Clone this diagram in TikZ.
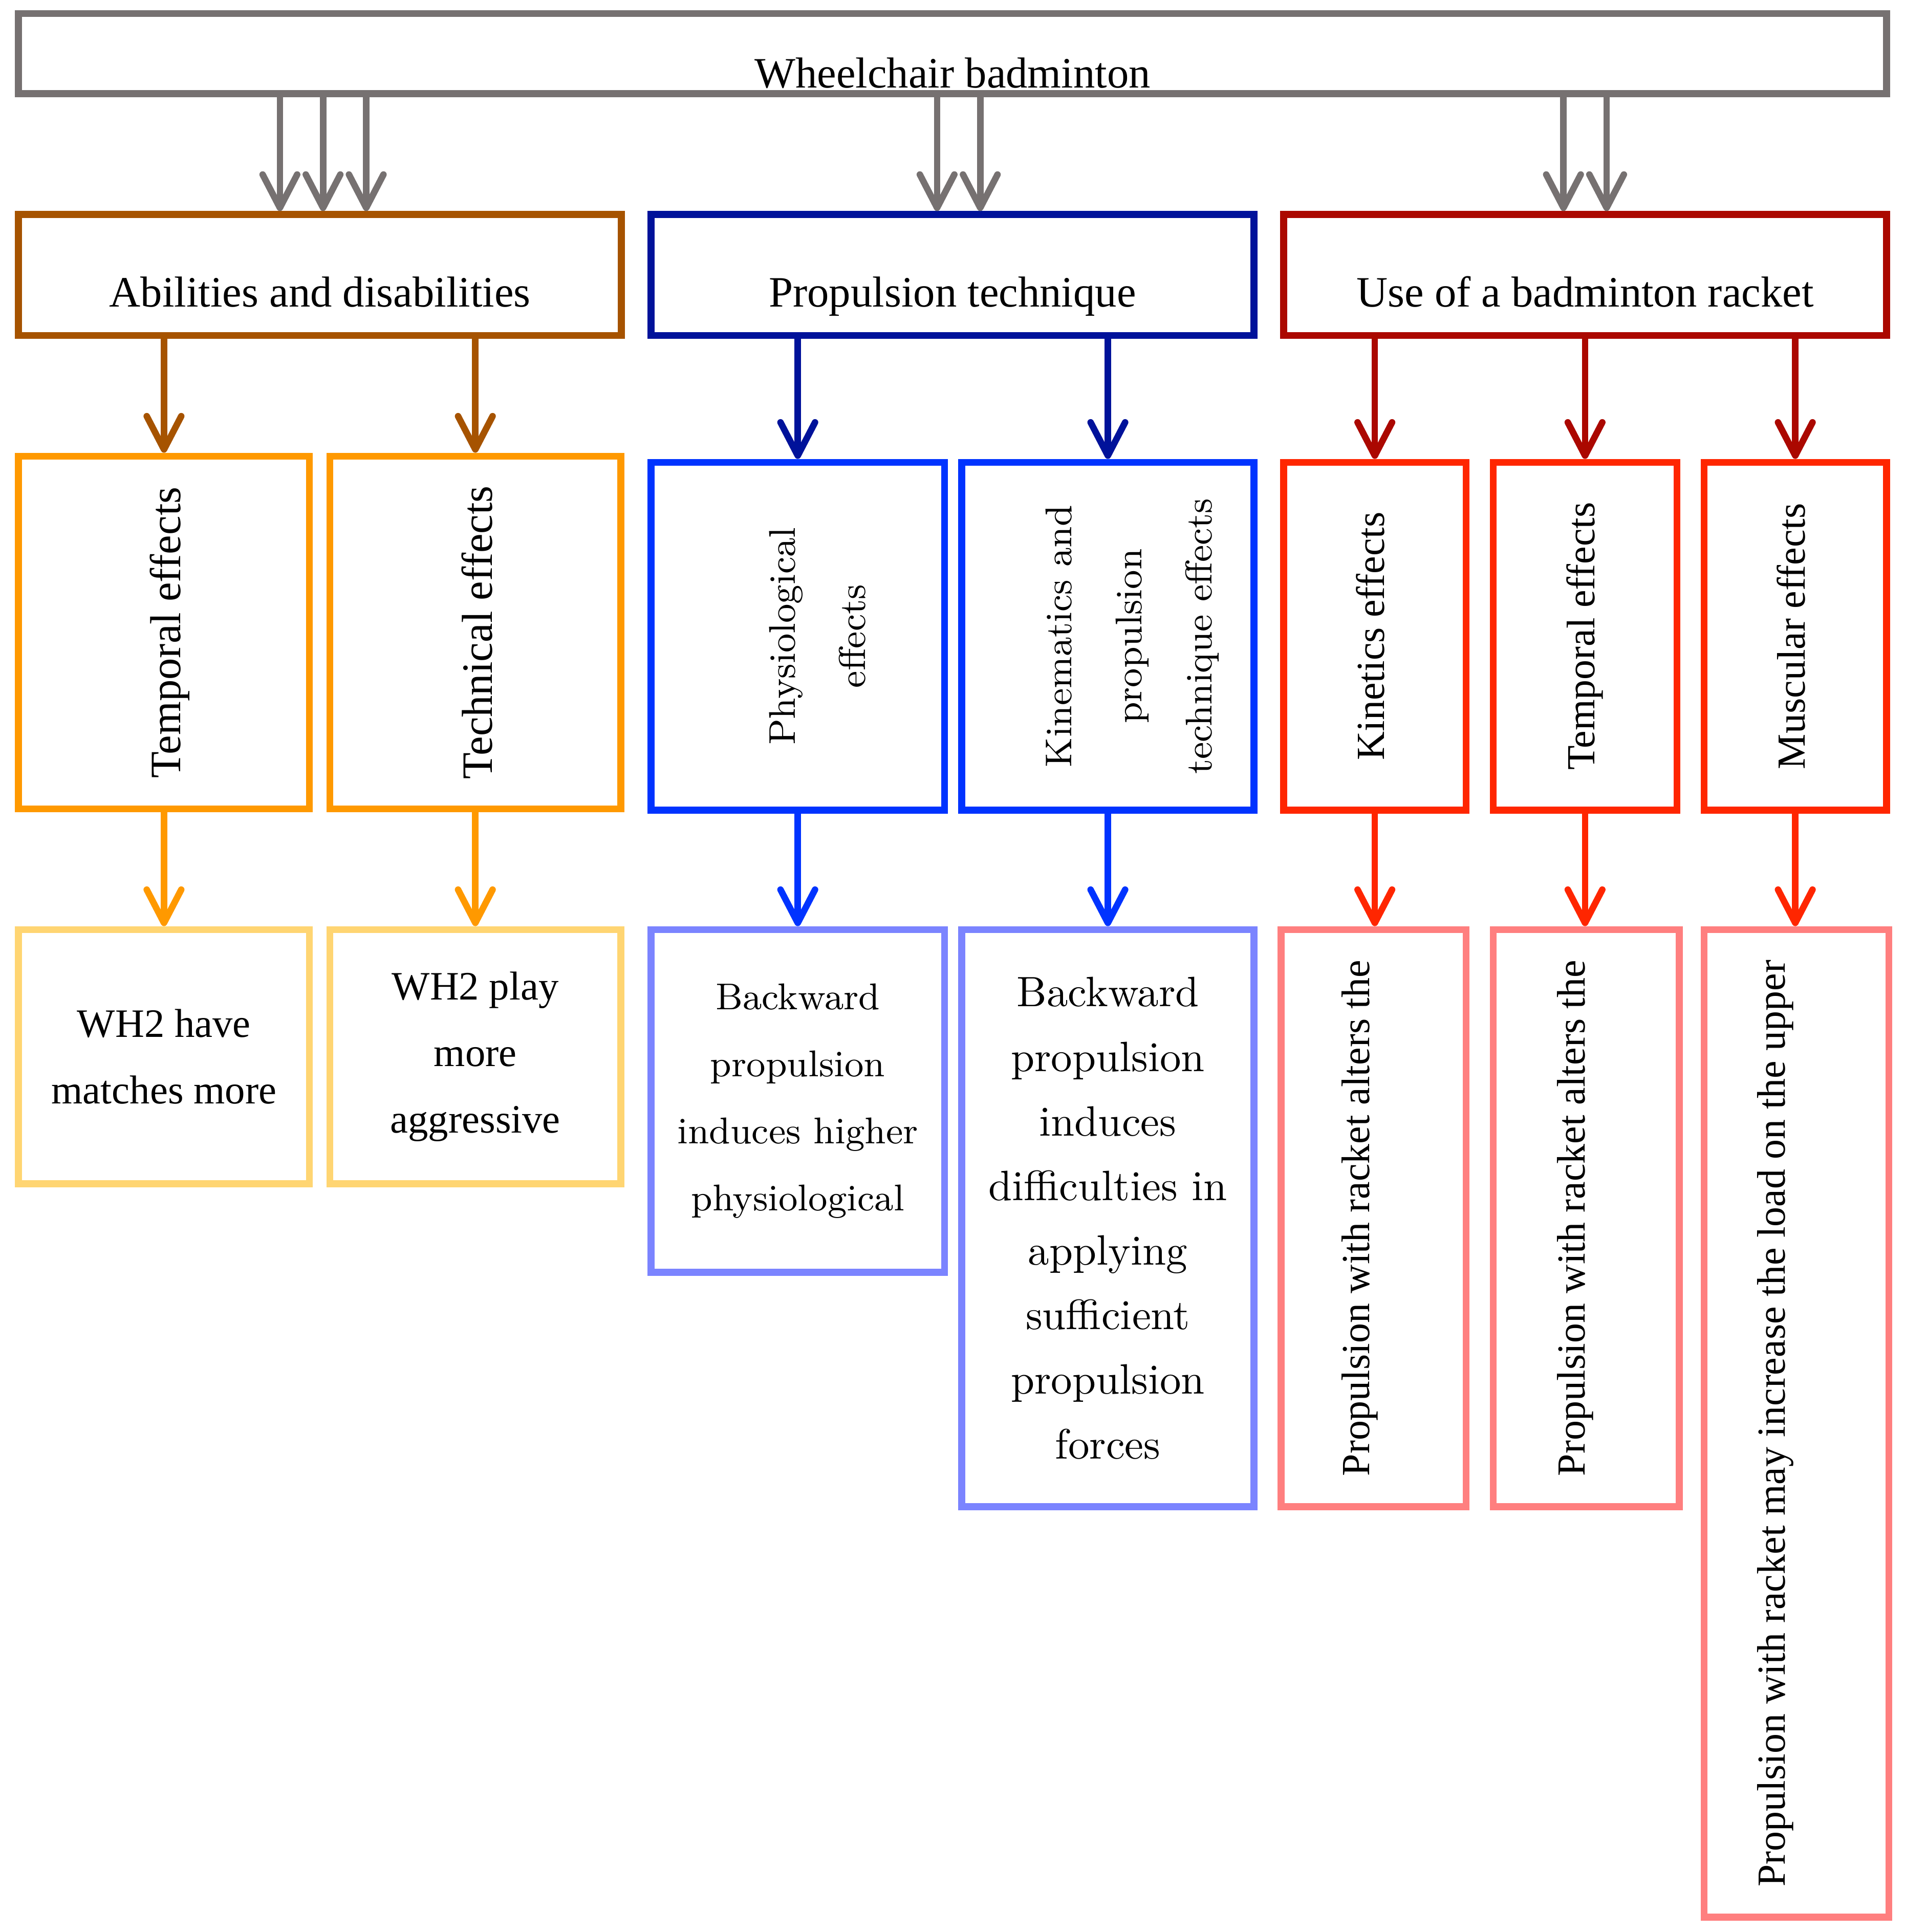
\documentclass[tikz,border=0pt]{standalone}
\usepackage{fontspec}
\usepackage{graphicx}
\newfontfamily\tnr{Liberation Serif}
\usetikzlibrary{arrows.meta}

\definecolor{wbgray}{HTML}{767171}
\definecolor{brownA}{HTML}{A65300}
\definecolor{orangeA}{HTML}{FF9900}
\definecolor{orangeB}{HTML}{FFD572}
\definecolor{blueA}{HTML}{00129A}
\definecolor{blueB}{HTML}{0033FF}
\definecolor{blueC}{HTML}{7B84FF}
\definecolor{redA}{HTML}{AB0800}
\definecolor{redB}{HTML}{FF2600}
\definecolor{redC}{HTML}{FF7F7F}

\newcommand{\vtext}[2][0pt]{\hspace*{#1}\rotatebox{90}{\begin{tabular}{@{}c@{}}#2\end{tabular}}}

\tikzset{
	box/.style={draw, line width=1.6pt, inner sep=0pt},
	headbox/.style={box, minimum width=4.89cm, minimum height=0.98cm, text height=0.7cm, text depth=0.18cm, font=\tnr\fontsize{10}{12}\selectfont},
	arr/.style={line width=1.5pt, line cap=round, -{Straight Barb[length=0.27cm,width=0.28cm,round]}}
}

\begin{document}
\begin{tikzpicture}
	\useasboundingbox (0,0) rectangle (15.45,-15.67);
	
	\node[box, draw=wbgray, minimum width=15.15cm, minimum height=0.65cm, text height=0.6cm, text depth=0.045cm, font=\tnr\fontsize{10}{12}\selectfont] (wb) at (7.725,-0.435) {Wheelchair badminton};
	
	\node[headbox, draw=brownA] (ad) at (2.595,-2.23) {Abilities and disabilities};
	\node[headbox, draw=blueA] (pt) at (7.725,-2.23) {Propulsion technique};
	\node[headbox, draw=redA] (ur) at (12.855,-2.23) {Use of a badminton racket};
	
	% effects
	\node[box, draw=orangeA, minimum width=2.36cm, minimum height=2.86cm, font=\tnr\fontsize{10}{12}\selectfont] (te) at (1.33,-5.13) {\vtext[0.1cm]{Temporal effects}};
	\node[box, draw=orangeA, minimum width=2.36cm, minimum height=2.86cm, font=\tnr\fontsize{10}{12}\selectfont] (tc) at (3.855,-5.13) {\vtext[0.1cm]{Technical effects}};
	\node[box, draw=blueB, minimum width=2.38cm, minimum height=2.82cm, font=\fontsize{8.6}{16.2}\selectfont] (pe) at (6.47,-5.16) {\vtext[0.3cm]{Physiological\\effects}};
	\node[box, draw=blueB, minimum width=2.37cm, minimum height=2.82cm, font=\fontsize{8.6}{16.2}\selectfont] (ke) at (8.985,-5.16) {\vtext[0.32cm]{Kinematics and\\propulsion\\technique effects}};
	\node[box, draw=redB, minimum width=1.48cm, minimum height=2.82cm, font=\tnr\fontsize{9.2}{11}\selectfont] (kn) at (11.15,-5.16) {\vtext{Kinetics effects}};
	\node[box, draw=redB, minimum width=1.49cm, minimum height=2.82cm, font=\tnr\fontsize{9.2}{11}\selectfont] (tr) at (12.855,-5.16) {\vtext{Temporal effects}};
	\node[box, draw=redB, minimum width=1.48cm, minimum height=2.82cm, font=\tnr\fontsize{9.2}{11}\selectfont] (me) at (14.56,-5.16) {\vtext{Muscular effects}};
	
	% findings
	\node[box, draw=orangeB, minimum width=2.36cm, minimum height=2.06cm, align=center, font=\tnr\fontsize{9.3}{15.4}\selectfont] (wa) at (1.33,-8.57) {WH2 have\\matches more};
	\node[box, draw=orangeB, minimum width=2.36cm, minimum height=2.06cm, align=center, font=\tnr\fontsize{9.3}{15.4}\selectfont] (wp) at (3.855,-8.57) {WH2 play\\more\\aggressive};
	\node[box, draw=blueC, minimum width=2.38cm, minimum height=2.78cm, align=center, font=\fontsize{8.6}{15.5}\selectfont] (bp) at (6.47,-8.93) {Backward\\propulsion\\induces higher\\physiological};
	\node[box, draw=blueC, minimum width=2.37cm, minimum height=4.68cm, align=center, font=\fontsize{9.8}{14.9}\selectfont] (bd) at (8.985,-9.88) {Backward\\propulsion\\induces\\difficulties in\\applying\\sufficient\\propulsion\\forces};
	\node[box, draw=redC, minimum width=1.50cm, minimum height=4.68cm, font=\tnr\fontsize{9.2}{11}\selectfont] (pa) at (11.14,-9.88) {\vtext[-0.22cm]{Propulsion with racket alters the}};
	\node[box, draw=redC, minimum width=1.51cm, minimum height=4.68cm, font=\tnr\fontsize{9.2}{11}\selectfont] (pb) at (12.865,-9.88) {\vtext[-0.18cm]{Propulsion with racket alters the}};
	\node[box, draw=redC, minimum width=1.50cm, minimum height=8.01cm, font=\tnr\fontsize{9.2}{11}\selectfont] (pu) at (14.57,-11.545) {\vtext[-0.34cm]{Propulsion with racket may increase the load on the upper}};
	
	% arrows from the top
	\foreach \dx in {-0.325,0.025,0.375}
		\draw[arr, wbgray] ([xshift=\dx cm]ad.north |- wb.south) -- ([xshift=\dx cm]ad.north);
	\foreach \dx in {-0.125,0.225}
		\draw[arr, wbgray] ([xshift=\dx cm]pt.north |- wb.south) -- ([xshift=\dx cm]pt.north);
	\foreach \dx in {-0.175,0.175}
		\draw[arr, wbgray] ([xshift=\dx cm]ur.north |- wb.south) -- ([xshift=\dx cm]ur.north);
	
	\draw[arr, brownA] (ad.south -| te) -- (te.north);
	\draw[arr, brownA] (ad.south -| tc) -- (tc.north);
	\draw[arr, blueA] (pt.south -| pe) -- (pe.north);
	\draw[arr, blueA] (pt.south -| ke) -- (ke.north);
	\draw[arr, redA] (ur.south -| kn) -- (kn.north);
	\draw[arr, redA] (ur.south -| tr) -- (tr.north);
	\draw[arr, redA] (ur.south -| me) -- (me.north);
	
	\draw[arr, orangeA] (te.south) -- (te.south |- wa.north);
	\draw[arr, orangeA] (tc.south) -- (tc.south |- wp.north);
	\draw[arr, blueB] (pe.south) -- (pe.south |- bp.north);
	\draw[arr, blueB] (ke.south) -- (ke.south |- bd.north);
	\draw[arr, redB] (kn.south) -- (kn.south |- pa.north);
	\draw[arr, redB] (tr.south) -- (tr.south |- pb.north);
	\draw[arr, redB] (me.south) -- (me.south |- pu.north);
\end{tikzpicture}
\end{document}
